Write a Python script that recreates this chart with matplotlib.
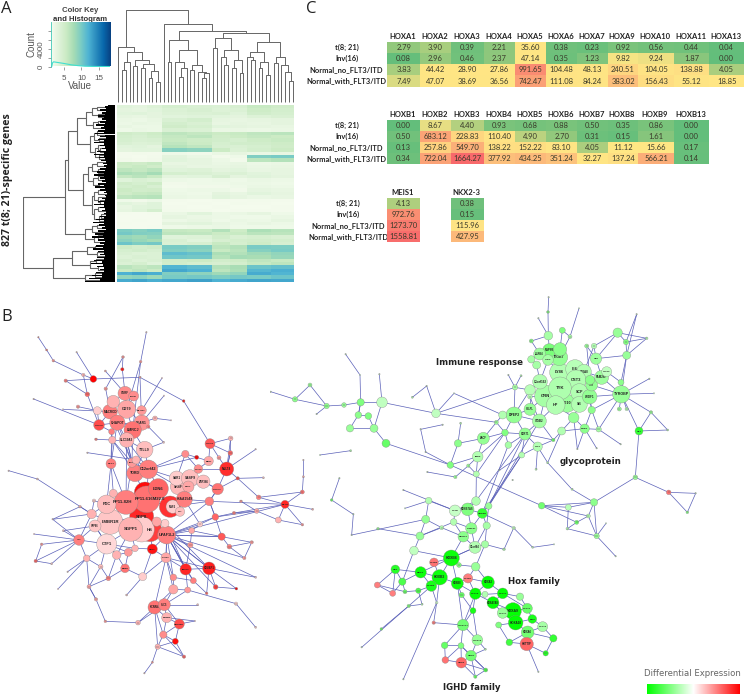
import numpy as np
import matplotlib
matplotlib.use('Agg')
import matplotlib.pyplot as plt
from matplotlib.collections import LineCollection
from matplotlib.colors import LinearSegmentedColormap, FuncNorm
from matplotlib.patches import Circle

W, H = 746, 697

# ---- panel A data
key_hist_x = [1.5, 1.7, 1.9, 2.2, 3, 5, 7, 9, 11, 13, 15, 18]
key_hist_y = [0, 0, 800, 1050, 950, 700, 400, 200, 60, 20, 0, 0]

# 53 gene bands x 9 sample groups
heat_values = [
    [3.6, 3.2, 3.8, 4.6, 4.2, 4.0, 4.4, 5.8, 5.2],
    [3.2, 3.0, 3.4, 4.0, 4.4, 3.8, 4.0, 5.4, 4.8],
    [3.4, 3.6, 3.2, 3.8, 4.0, 4.2, 3.6, 5.0, 4.6],
    [3.0, 2.8, 3.2, 3.4, 3.6, 3.4, 3.2, 3.8, 4.2],
    [2.6, 2.4, 2.8, 4.2, 4.8, 3.0, 2.8, 3.0, 3.2],
    [2.4, 2.8, 2.6, 4.8, 4.2, 2.8, 3.0, 2.8, 3.2],
    [2.8, 2.4, 2.4, 5.2, 4.6, 3.4, 3.2, 3.0, 2.8],
    [2.2, 2.6, 2.4, 4.2, 4.0, 2.6, 2.6, 2.4, 2.6],
    [5.2, 4.8, 5.4, 6.4, 6.0, 5.6, 5.8, 6.2, 6.6],
    [4.8, 4.4, 5.0, 6.0, 6.4, 5.2, 5.6, 6.0, 5.6],
    [4.6, 4.2, 4.4, 5.8, 5.4, 5.0, 4.6, 5.4, 5.8],
    [4.2, 3.8, 4.0, 6.2, 5.6, 4.6, 5.0, 5.0, 5.4],
    [3.4, 3.6, 3.2, 6.8, 6.2, 4.4, 4.2, 4.6, 5.2],
    [3.2, 3.4, 3.4, 9.2, 8.8, 5.6, 4.0, 4.8, 5.6],
    [1.8, 1.9, 1.8, 2.2, 2.0, 2.6, 3.0, 2.6, 2.8],
    [1.8, 1.7, 1.9, 3.2, 2.6, 1.9, 2.2, 9.4, 9.8],
    [2.0, 1.8, 2.0, 3.4, 3.0, 2.4, 1.9, 6.5, 7.0],
    [5.6, 5.2, 5.8, 2.8, 3.0, 2.6, 2.8, 2.4, 2.6],
    [5.4, 5.8, 5.2, 3.2, 2.8, 2.8, 3.0, 2.6, 2.8],
    [6.4, 6.0, 6.6, 3.6, 3.8, 3.2, 3.4, 2.8, 3.0],
    [7.4, 7.0, 7.8, 4.6, 4.2, 3.8, 4.0, 3.4, 3.0],
    [6.0, 6.6, 5.8, 3.2, 3.4, 4.4, 3.2, 3.6, 3.2],
    [3.6, 4.2, 3.8, 2.4, 2.2, 2.4, 2.2, 2.6, 2.4],
    [5.2, 4.6, 5.4, 2.0, 2.2, 2.2, 2.4, 2.4, 2.2],
    [4.8, 5.2, 4.4, 1.9, 2.0, 2.0, 2.2, 2.6, 2.4],
    [5.6, 5.0, 5.2, 2.2, 2.4, 2.4, 2.0, 3.0, 2.8],
    [5.2, 5.8, 6.0, 2.4, 2.2, 3.2, 2.8, 3.4, 3.0],
    [6.2, 6.6, 6.8, 2.6, 2.4, 3.4, 3.0, 2.6, 2.8],
    [2.2, 2.0, 2.4, 1.8, 1.7, 1.8, 1.8, 1.9, 1.8],
    [3.4, 3.0, 3.6, 1.7, 1.8, 1.7, 1.9, 1.8, 1.7],
    [2.8, 3.4, 3.6, 1.8, 1.7, 1.8, 1.7, 1.7, 1.8],
    [3.0, 3.6, 4.6, 1.9, 1.8, 1.7, 1.8, 1.8, 1.8],
    [1.7, 1.6, 1.7, 2.6, 3.4, 2.4, 2.6, 3.0, 2.2],
    [1.6, 1.6, 1.6, 3.0, 2.6, 2.4, 2.2, 2.2, 2.6],
    [1.6, 1.7, 1.6, 2.4, 2.8, 2.2, 2.6, 2.4, 3.0],
    [1.7, 1.6, 1.6, 3.2, 3.4, 2.8, 2.4, 2.8, 2.4],
    [1.6, 1.6, 1.7, 2.2, 2.4, 2.6, 2.2, 2.2, 2.2],
    [9.6, 9.2, 9.8, 6.0, 5.8, 7.0, 5.4, 7.4, 6.8],
    [10.0, 9.4, 9.2, 6.4, 6.2, 5.6, 5.8, 6.6, 6.4],
    [8.4, 8.0, 8.6, 3.6, 3.8, 5.0, 4.2, 4.6, 4.2],
    [9.0, 8.4, 7.8, 4.2, 3.4, 4.4, 4.8, 5.0, 4.8],
    [10.4, 9.6, 10.0, 4.0, 4.4, 5.8, 4.6, 5.4, 4.4],
    [5.4, 4.8, 5.2, 9.8, 9.4, 6.4, 7.0, 9.8, 9.6],
    [4.6, 5.0, 4.4, 9.4, 9.0, 5.8, 6.6, 9.2, 9.8],
    [4.2, 3.8, 4.0, 11.0, 10.6, 7.4, 7.0, 8.0, 8.6],
    [3.8, 4.2, 4.0, 10.2, 10.0, 6.8, 7.8, 7.6, 8.4],
    [4.4, 3.8, 4.2, 5.2, 5.6, 5.0, 5.4, 6.2, 5.8],
    [4.0, 4.6, 3.6, 5.0, 4.6, 4.4, 4.8, 5.8, 6.4],
    [6.6, 6.0, 6.4, 11.6, 11.0, 7.0, 7.6, 10.4, 10.8],
    [5.8, 6.4, 5.6, 12.4, 11.8, 6.4, 7.4, 11.4, 12.0],
    [11.8, 12.4, 12.0, 9.4, 8.8, 8.0, 8.6, 12.2, 11.6],
    [8.6, 9.0, 8.2, 9.8, 10.0, 9.6, 10.0, 9.8, 10.4],
    [12.2, 12.6, 12.0, 12.4, 12.8, 11.8, 12.2, 12.6, 12.4],
]

# dendrograms: (height, left, right), 0 is a leaf
col_tree = (275,
            (165, 0, (148, (120, (95, 0, 0), 0),
                      (125, (108, 0, 0), (112, (100, 0, 0), (92, (70, 0, 0), (60, 0, 0)))))),
            (233, 0,
             (212,
              (185, (120, 0, 0),
               (155, (120, 0, (100, (75, 0, 0), 0)),
                (110, (95, 0, 0), (90, 0, (85, (70, 0, 0), 0))))),
              (207,
               (190, (160, 0, 0), (155, (135, 0, (110, 0, 0)), (125, (100, 0, 0), (85, 0, 0)))),
               (178, (150, (135, 0, (125, 0, 0)), (120, (100, 0, 0), (80, 0, 0))),
                (135, (115, 0, 0), (110, 0, (90, 0, (62, 0, 0)))))))))

row_tree = (275,
            (150,
             (142,
              (113,
               (87, (70, (55, 0, 0), (50, 0, 0)), (65, (52, 0, 0), 0)),
               (75, (62, (55, 0, 0), (48, 0, 0)), (60, (50, 0, (45, 0, 0)), (48, 0, 0)))),
              (95,
               (82, (68, (55, 0, 0), (50, 0, 0)), (65, (52, 0, 0), (48, 0, 0))),
               (70, (62, (50, 0, 0), (50, 0, (45, 0, 0))), (64, (52, 0, 0), (48, (42, 0, 0), 0))))),
             (90, (70, (55, 0, 0), 0), (62, (50, 0, 0), 0))),
            (185,
             (130, (85, (60, 0, 0), (55, 0, 0)), (75, (58, 0, 0), (50, 0, 0))),
             (90, (60, 0, 0), 0)))

# left edge of the black leaf block, top to bottom
row_leaf_depth = [22, 30, 26, 44, 28, 38, 30, 52, 32, 40, 28, 46, 30, 58, 34, 42, 30, 50, 32, 60,
                  30, 44, 28, 52, 32, 62, 34, 46, 30, 40, 28, 54, 32, 64, 34, 48, 30, 42, 26, 36,
                  24, 32, 28, 44, 30, 54, 34, 62, 32, 46, 30, 40, 28, 52, 32, 60, 30, 44, 28, 34,
                  24, 30, 28, 40, 30, 50, 32, 62, 34, 46, 30, 38, 26, 34, 28, 46, 32, 56, 34, 66,
                  32, 48, 30, 40, 28, 50, 32, 60, 36, 70, 34, 50, 30, 44, 32, 56, 36, 66, 34, 52,
                  32, 44, 30, 54, 34, 64, 38, 72, 36, 54, 32, 46, 34, 58, 38, 68, 40, 78, 44, 90]

# ---- panel B data, left network
left_x = [330, 450, 425, 425, 392, 435, 440, 475, 378, 320,
          510, 518, 320, 500, 540, 405, 445, 434, 333, 396,
          535, 530, 570, 565, 610, 553, 653, 680, 630, 626,
          595, 556, 590, 692, 691, 657, 628, 713, 855, 776,
          907, 938, 907, 835, 910, 910, 790, 767, 646, 665,
          688, 755, 733, 770, 702, 723, 575, 571, 600, 457,
          375, 557, 627, 709, 647, 620, 580, 520, 520, 563,
          498, 428, 325, 380, 267, 288, 316, 414, 464, 493,
          500, 538, 490, 526, 473, 552, 457, 433, 593, 585,
          708, 767, 767, 237, 125, 107, 155, 102, 260, 174,
          203, 302, 350, 385, 405, 285, 275, 240, 158, 190,
          282, 26, 112, 495, 470, 340, 380, 375, 401, 330,
          352, 425, 398, 340, 425, 380, 335, 337, 297, 292,
          262, 280, 197, 250, 230, 160, 140, 115, 101, 189,
          234, 288, 262, 367, 369, 422, 439, 316, 317, 420,
          486, 551, 492, 465, 445, 491, 513, 408]
left_y = [695, 720, 680, 718, 718, 608, 628, 596, 637, 643,
          650, 650, 762, 735, 665, 550, 538, 479, 521, 518,
          590, 565, 565, 590, 575, 628, 597, 537, 461, 513,
          537, 492, 502, 445, 489, 503, 634, 565, 643, 622,
          606, 658, 704, 690, 560, 510, 563, 478, 681, 740,
          770, 757, 804, 663, 669, 634, 722, 765, 703, 777,
          835, 838, 835, 896, 891, 910, 872, 862, 898, 900,
          803, 860, 865, 915, 890, 928, 994, 998, 952, 944,
          983, 1002, 1034, 1054, 1070, 1100, 1117, 1150, 944, 993,
          941, 1012, 862, 750, 763, 813, 821, 732, 805, 897,
          845, 830, 795, 787, 775, 708, 672, 650, 688, 722,
          632, 542, 567, 700, 695, 610, 358, 310, 318, 365,
          398, 398, 420, 335, 361, 450, 425, 450, 405, 362,
          313, 267, 272, 255, 187, 212, 180, 142, 327, 358,
          350, 448, 488, 238, 201, 215, 127, 243, 296, 262,
          264, 333, 317, 385, 410, 457, 391, 510]
left_r = [38, 35, 36, 38, 36, 32, 40, 30, 36, 28,
          32, 20, 30, 27, 14, 25, 28, 25, 15, 14,
          24, 22, 26, 17, 20, 24, 17, 21, 15, 14,
          13, 11, 6, 7, 7, 6, 13, 5, 12, 7,
          6, 3, 4, 9, 3, 2, 3, 2, 10, 11,
          7, 5, 5, 7, 5, 4, 9, 8, 8, 15,
          13, 17, 19, 4, 7, 4, 9, 10, 14, 9,
          15, 12, 7, 3, 6, 5, 4, 7, 20, 18,
          15, 15, 11, 9, 8, 5, 3, 2, 3, 2,
          5, 3, 3, 16, 4, 5, 3, 2, 10, 2,
          2, 7, 13, 12, 10, 18, 14, 4, 2, 3,
          5, 2, 3, 12, 14, 12, 27, 21, 15, 22,
          23, 23, 26, 19, 14, 22, 9, 11, 16, 12,
          7, 10, 5, 5, 2, 4, 3, 2, 2, 2,
          5, 4, 2, 5, 4, 4, 2, 3, 5, 3,
          2, 4, 2, 7, 5, 3, 2, 12]
left_de = [.22, .75, .85, .2, .3, .95, .55, .6, .5, .25,
           .8, .2, .15, .5, .25, .5, .5, .25, .5, .4,
           .28, .2, .25, .35, .25, .5, .55, .82, .65, .35,
           .45, .45, 1, .3, .6, .4, .5, .7, .85, .5,
           .55, .3, .4, .3, .3, .2, .2, .2, .6, .65,
           .5, .4, .4, .35, .5, .4, .35, .4, .2, .92,
           .55, .85, .88, 1, .75, .6, .5, .45, .35, .4,
           .35, .2, .5, .2, .35, .35, .4, .3, .55, .5,
           .3, .7, .45, .95, .3, .6, .4, .2, .2, .2,
           .2, .2, .2, .5, .4, .6, .2, .2, .3, .2,
           .2, .25, .3, .4, .3, .22, .3, .3, .2, .2,
           .2, .2, .2, .2, .35, .3, .35, .45, .45, .5,
           .5, .42, .55, .3, .4, .3, .5, .3, .7, .2,
           .6, 1, .5, .3, .2, .4, .5, .5, .2, .2,
           .4, .5, .2, .9, .4, .4, .2, .3, .4, .4,
           .2, .9, .2, .3, .5, .2, .2, .3]
left_names = {0: 'LMBR1R', 1: 'HS', 2: 'SGPIL', 4: 'SGPP1', 6: 'RP11-616M22.6', 7: 'LDN6',
              8: 'RP11-82H', 9: 'PDC', 11: 'NAF2', 12: 'CTF1', 13: 'UPAF1L2', 14: 'CT7',
              15: 'TORD', 16: 'C12orf42', 17: 'TTLL9', 18: 'MEG3', 19: 'PIK3', 20: 'SRSF',
              21: 'SAR1', 22: 'S4SF9', 23: 'MBL1', 24: 'ZNF366', 25: 'KIAA1549', 26: 'CAMK2',
              27: 'MLLT4', 28: 'CHAC1', 29: 'DBN1', 30: 'NFATC', 38: 'BCAR', 59: 'HMP1',
              60: 'RRBD', 61: 'FBLN5', 62: 'SOUAP1', 70: 'LPAR5', 78: 'KCNN4', 79: 'SLC5',
              80: 'PSMB9', 81: 'ARHGEF', 93: 'IL11', 105: 'SPP86', 116: 'CD79', 117: 'SGRF',
              118: 'RNAB', 119: 'MACROD', 120: 'CHAPOT', 121: 'PEAR1', 122: 'LMRCJ',
              124: 'BCAMT', 125: 'SLC19A2', 128: 'CAMKK'}
left_edges = [
    (137, 136), (136, 135), (135, 133), (133, 131), (131, 132), (131, 149), (134, 131), (149, 151),
    (151, 28), (146, 145), (145, 122), (144, 143), (144, 148), (143, 117), (145, 116), (147, 117),
    (148, 119), (149, 121), (150, 124), (152, 121), (138, 128), (139, 119), (140, 129), (130, 133),
    (130, 128), (132, 130), (129, 128), (128, 119), (128, 120), (141, 127), (142, 157),
    (116, 117), (116, 118), (116, 119), (116, 120), (116, 121), (116, 122), (116, 123), (116, 124),
    (117, 118), (117, 123), (119, 120), (119, 122), (120, 121), (120, 122), (121, 122), (122, 125),
    (120, 125), (120, 126), (126, 127), (127, 125), (125, 17), (122, 17), (125, 19), (125, 15),
    (120, 19), (119, 19), (128, 126), (153, 121), (154, 122), (155, 17), (156, 153), (155, 154),
    (17, 16), (17, 15), (19, 15), (19, 16), (18, 9), (18, 8), (18, 115), (19, 8), (127, 15),
    (127, 18), (125, 16), (157, 16), (125, 8), (120, 18), (126, 18), (122, 19), (127, 19),
    (15, 16), (15, 6), (16, 6), (16, 7), (7, 6), (5, 6), (8, 6), (9, 8), (0, 8), (0, 9), (0, 4),
    (4, 3), (3, 1), (1, 2), (2, 6), (2, 0), (2, 4), (10, 6), (10, 7), (11, 10), (14, 10), (13, 1),
    (13, 113), (13, 70), (113, 114), (114, 1), (12, 0), (12, 4), (12, 102), (12, 105), (105, 0),
    (106, 0), (106, 9), (107, 106), (108, 106), (109, 105), (110, 9),
    (20, 21), (20, 22), (21, 22), (22, 23), (20, 23), (22, 24), (23, 24), (24, 26), (25, 20),
    (25, 23), (25, 10), (25, 36), (26, 27), (26, 24), (27, 30), (27, 33), (27, 34), (29, 30),
    (29, 28), (28, 33), (28, 34), (28, 35), (33, 34), (29, 32), (32, 31), (31, 30), (31, 21),
    (30, 22), (32, 16), (31, 16), (35, 27), (34, 27), (36, 26), (36, 38), (36, 48), (37, 27),
    (37, 26), (38, 39), (38, 40), (38, 41), (38, 42), (38, 43), (40, 44), (44, 45), (40, 39),
    (42, 43), (43, 53), (53, 54), (54, 38), (55, 53), (39, 37), (46, 37), (47, 27), (48, 13),
    (48, 36), (48, 49), (49, 13), (49, 50), (50, 51), (50, 52), (51, 52), (49, 51), (52, 13),
    (53, 48), (54, 48), (56, 13), (57, 13), (58, 13), (56, 58), (56, 49), (57, 61), (57, 56),
    (58, 48), (25, 58), (36, 10), (13, 36), (26, 36), (20, 16), (21, 16), (30, 25), (38, 13),
    (59, 1), (59, 13), (59, 104), (60, 103), (60, 71), (60, 72), (60, 102), (70, 13), (70, 61),
    (70, 67), (70, 68), (61, 62), (61, 66), (61, 13), (62, 13), (62, 63), (62, 64), (62, 65),
    (62, 92), (64, 63), (65, 66), (66, 67), (67, 68), (68, 69), (69, 61), (68, 78), (68, 79),
    (69, 79), (69, 90), (90, 91), (70, 78), (71, 70), (71, 73), (72, 74), (71, 59), (74, 75),
    (75, 76), (76, 77), (77, 78), (77, 79), (78, 79), (78, 80), (79, 80), (80, 81), (78, 82),
    (79, 81), (81, 82), (81, 83), (82, 83), (83, 85), (82, 85), (84, 85), (84, 82), (84, 83),
    (84, 78), (84, 86), (86, 87), (80, 89), (79, 88), (81, 89), (80, 82), (13, 61), (13, 62),
    (13, 92), (13, 64), (13, 49), (70, 62), (113, 62), (59, 70), (13, 67), (13, 66), (113, 61),
    (93, 94), (93, 95), (93, 96), (93, 97), (93, 98), (93, 105), (93, 106), (93, 108), (93, 109),
    (93, 12), (94, 95), (95, 96), (98, 12), (98, 99), (98, 100), (98, 101), (98, 74), (101, 12),
    (101, 72), (102, 103), (103, 104), (104, 4), (102, 4), (111, 112), (112, 106), (107, 108),
    (110, 106), (105, 12), (72, 102), (75, 74), (74, 101), (12, 103), (12, 104), (102, 12),
]

# ---- panel B data, right network (positive is the green side)
right_x = [527, 591, 568, 615, 642, 618, 570, 557, 628, 628,
           659, 665, 660, 695, 510, 480, 568, 538, 509, 534,
           570, 484, 500, 535, 577, 484, 534, 536, 505, 627,
           600, 678, 650, 672, 743, 768, 770, 800, 830, 710,
           753, 754, 838, 852, 748, 770, 843, 807, 893, 752,
           686, 644, 665, 611, 575, 533, 680, 622, 432, 398,
           480, 508, 465, 503, 455, 415, 405, 379, 435, 453,
           415, 480, 550, 498, 340, 264, 272, 323, 241, 295,
           198, 252, 170, 127, 218, 152, 167, 172, 256, 319,
           388, 428, 36, 48, 12, -5, 28, -28, -35, -60,
           -225, -180, -298, -130, -78, -160, -150, -58, -92, -115,
           -50, -55, -25, -73, -30, 318, 255, 293, 337, 356,
           350, 304, 280, 251, 215, 167, 150, 100, 176, 105,
           24, 132, 315, 345, 402, 431, 488, 552, 515, 672,
           595, 655, 620, 592, 680, 708, 737, 606, 796, 896,
           977, 952, 244, 209, 152, 76, 97, 184, 262, 192,
           294, 354, 316, 345, 267, 317, 275, 22, 68, 105,
           145, 116, 156, 200, 34, 100, 191, 369, 398, 450,
           429, 398, 472, 437, 487, 386, 473, 518, 550, 470,
           418, 527, 505, 309, 279, 322, 303, 274, 226, 224,
           273, 347, 316, 346]
right_y = [318, 340, 247, 237, 245, 270, 295, 345, 307, 343,
           320, 285, 270, 262, 275, 300, 202, 181, 192, 210,
           178, 208, 225, 137, 121, 153, 66, 22, 85, 55,
           140, 206, 168, 168, 128, 156, 196, 73, 145, 245,
           277, 313, 266, 310, 357, 357, 367, 423, 420, 463,
           418, 416, 360, 383, 423, 518, 475, 477, 375, 375,
           358, 393, 432, 470, 495, 465, 428, 397, 292, 257,
           255, 320, 450, 538, 445, 460, 400, 500, 525, 527,
           370, 310, 288, 322, 404, 418, 486, 546, 561, 552,
           541, 570, 337, 460, 415, 378, 253, 337, 375, 415,
           328, 285, 305, 348, 345, 372, 495, 482, 565, 630,
           673, 735, 1072, 193, 255, 633, 662, 658, 670, 648,
           707, 715, 740, 696, 713, 688, 738, 600, 632, 655,
           716, 782, 772, 763, 778, 714, 772, 763, 647, 637,
           652, 678, 697, 716, 738, 700, 799, 598, 562, 607,
           610, 667, 804, 862, 847, 838, 875, 888, 880, 817,
           865, 877, 911, 913, 825, 830, 915, 885, 910, 905,
           902, 948, 943, 938, 1017, 1168, 998, 938, 910, 920,
           963, 969, 955, 998, 987, 1005, 1027, 1010, 1045, 1062,
           1057, 1090, 1145, 962, 1005, 1050, 1097, 1118, 1110, 1066,
           1067, 1140, 1160, 1078]
right_r = [33, 27, 29, 28, 22, 30, 34, 28, 26, 24,
           22, 18, 14, 21, 22, 16, 25, 20, 18, 16,
           20, 11, 12, 13, 9, 6, 4, 2, 2, 2,
           6, 17, 6, 8, 14, 8, 12, 2, 4, 15,
           9, 26, 2, 2, 6, 5, 5, 12, 3, 2,
           8, 14, 11, 16, 12, 3, 2, 2, 24, 12,
           18, 21, 18, 14, 9, 10, 10, 6, 8, 3,
           2, 7, 5, 3, 18, 11, 3, 16, 10, 5,
           13, 2, 2, 3, 2, 2, 2, 2, 5, 9,
           2, 2, 16, 12, 12, 10, 2, 11, 10, 11,
           8, 6, 2, 8, 7, 2, 2, 3, 2, 4,
           2, 2, 2, 2, 2, 13, 17, 19, 15, 10,
           11, 17, 16, 10, 6, 12, 12, 2, 10, 2,
           4, 13, 18, 11, 4, 5, 3, 2, 10, 11,
           9, 6, 6, 4, 8, 2, 2, 3, 7, 7,
           2, 4, 24, 23, 17, 13, 11, 16, 18, 13,
           14, 19, 17, 9, 7, 13, 8, 9, 9, 6,
           8, 5, 3, 4, 4, 2, 5, 18, 16, 11,
           25, 16, 15, 22, 13, 9, 19, 15, 11, 20,
           10, 8, 2, 9, 17, 16, 16, 16, 10, 10,
           9, 6, 5, 3]
right_de = [.35, .38, .3, .28, .3, .3, .32, .3, .3, .3,
            .42, .42, .45, .38, .3, .28, .42, .52, .38, .35,
            .45, .35, .35, .35, .5, .5, .5, .2, .2, .2,
            .35, .38, .4, .3, .4, .5, .4, .2, .3, .25,
            .45, .4, .2, .2, .4, .3, .4, .8, .3, .2,
            .35, .45, .45, .4, .3, .3, .2, .2, .42, .3,
            .4, .35, .42, .3, .3, .35, .5, .4, .35, .3,
            .2, .3, .6, .3, .42, .45, .3, .3, .5, .4,
            .25, .2, .2, .3, .2, .2, .2, .2, .4, .3,
            .2, .2, .25, .6, .4, .5, .2, .5, .45, .4,
            .45, .4, .2, .45, .4, .2, .2, .3, .3, .6,
            .3, .2, .2, .2, .2, .3, .22, .5, .8, .4,
            .35, .45, .45, .3, .3, .42, .4, .2, .3, .2,
            .4, .25, .3, .35, .3, .25, .25, .2, .55, .45,
            .28, .3, .6, .3, .4, .2, .2, .3, .4, -.55,
            .2, .5, .95, .95, .95, .85, .7, .9, .95, -.55,
            -.5, .98, .98, .3, .5, .4, .6, -.5, -.5, .6,
            .7, .5, .3, .2, .6, .2, -.5, .98, .98, .4,
            .98, .4, .6, .98, .9, .5, .55, .35, .8, -.6,
            .75, .85, .2, .9, .55, .4, .55, -.6, -.55, .6,
            .5, .7, .6, .3]
right_names = {0: 'GRN', 1: 'CD10', 2: 'LY86', 3: 'IE6', 4: '100A8', 5: 'CST3', 6: 'TYK', 7: 'HP',
               8: 'SCP', 9: 'SB', 10: 'WDF1', 11: 'TYR', 13: 'FAM26F', 14: 'C1orf162', 16: 'ITGB7',
               17: 'NAPSB', 18: 'LILRB4', 19: 'CLEC', 31: 'GNS', 39: 'SLC15', 41: 'TYROBP', 47: 'CD4',
               51: 'MPEG', 58: 'DPEP2', 60: 'SELPL', 61: 'ITGB2', 62: 'SORT1', 63: 'LCP1', 74: 'ABCF',
               77: 'FNBP', 116: 'HOXB', 117: 'HOXB7AS', 118: 'CMKBB', 121: 'LAMP5L', 122: 'C9orf10',
               132: 'C1orf84', 152: 'HOXB6', 153: 'HOXB3', 154: 'MGC3', 155: 'HCG', 157: 'HOXB5',
               158: 'HOXB8', 159: 'HOXB2', 160: 'HOXB7', 161: 'HOXA3', 162: 'HOXA5', 177: 'HOXA7AS',
               178: 'HOXA7', 180: 'HOXA9', 181: 'HOXA4', 182: 'HOXA1', 183: 'HOXA10', 184: 'MEIS',
               186: 'HOXA6', 187: 'HOXA2', 189: 'HOTTIP', 194: 'SLC2A14', 195: 'SLC2A9', 196: 'IGHD1',
               197: 'IGHD2'}
right_edges = [
    (0, 1), (0, 2), (0, 6), (0, 7), (0, 14), (0, 15), (1, 8), (1, 9), (1, 7), (2, 3), (2, 6), (2, 16),
    (3, 4), (3, 5), (4, 5), (5, 8), (5, 6), (8, 9), (8, 10), (9, 10), (10, 11), (11, 12), (12, 13),
    (4, 13), (13, 39), (39, 40), (40, 41), (10, 41), (11, 41), (13, 41), (14, 22), (14, 15), (14, 19),
    (16, 17), (16, 20), (17, 18), (17, 19), (18, 19), (18, 21), (21, 22), (19, 2), (20, 24), (17, 23),
    (23, 25), (18, 25), (23, 26), (26, 27), (23, 28), (24, 30), (30, 16), (29, 30), (31, 32), (31, 33),
    (31, 13), (32, 12), (33, 4), (31, 34), (33, 34), (34, 35), (35, 36), (34, 38), (35, 38), (36, 38),
    (36, 31), (37, 35), (37, 36), (36, 41), (36, 40), (42, 41), (43, 41), (44, 41), (45, 41), (41, 46),
    (41, 47), (46, 47), (46, 48), (47, 48), (47, 148), (148, 149), (149, 150), (150, 151), (149, 151),
    (148, 139), (51, 52), (51, 53), (51, 50), (52, 10), (53, 9), (53, 54), (54, 51), (50, 49), (52, 50),
    (51, 56), (51, 57), (53, 57), (54, 55), (41, 52), (41, 50), (10, 52), (7, 53), (0, 60), (0, 61),
    (7, 61), (58, 60), (58, 59), (58, 61), (58, 62), (60, 61), (61, 62), (62, 63), (63, 64), (62, 64),
    (62, 65), (62, 66), (65, 66), (59, 67), (66, 67), (58, 66), (68, 58), (68, 15), (69, 68), (70, 68),
    (71, 60), (71, 0), (72, 61), (72, 62), (72, 54), (72, 63), (63, 73), (63, 55), (64, 119), (64, 90),
    (65, 118), (62, 115), (62, 119), (64, 118), (61, 119), (66, 89), (66, 77), (67, 74), (67, 80),
    (74, 75), (74, 77), (75, 76), (75, 78), (77, 78), (77, 79), (74, 66), (77, 89), (78, 86), (79, 89),
    (80, 81), (80, 82), (82, 83), (80, 92), (85, 84), (93, 78), (78, 138), (87, 88), (88, 79), (85, 86),
    (93, 94), (94, 95), (95, 98), (98, 97), (97, 92), (92, 94), (98, 99), (99, 94), (97, 104), (104, 103),
    (103, 100), (100, 101), (101, 103), (100, 102), (103, 105), (97, 98), (92, 96), (113, 114), (114, 97),
    (106, 107), (108, 109), (109, 110), (110, 111), (111, 125), (71, 61), (68, 80), (59, 81), (15, 58),
    (89, 115), (115, 116), (115, 117), (116, 117), (117, 118), (118, 119), (117, 121), (118, 121),
    (119, 120), (118, 120), (121, 122), (121, 123), (116, 123), (122, 123), (122, 124), (124, 125),
    (124, 126), (125, 126), (123, 126), (125, 128), (128, 129), (127, 116), (128, 116), (120, 132),
    (121, 132), (122, 132), (132, 133), (133, 120), (133, 165), (132, 152), (122, 152), (126, 131),
    (131, 152), (131, 156), (130, 126), (134, 135), (135, 118), (134, 133), (136, 137), (136, 135),
    (138, 139), (138, 140), (138, 141), (138, 142), (139, 140), (139, 141), (141, 142), (139, 144),
    (141, 144), (142, 143), (140, 143), (144, 145), (144, 146), (143, 144), (147, 139), (147, 55),
    (152, 153), (152, 154), (152, 158), (152, 164), (152, 159), (153, 154), (153, 157), (153, 158),
    (153, 159), (154, 155), (154, 156), (155, 156), (155, 167), (155, 168), (156, 168), (167, 168),
    (167, 169), (156, 169), (169, 170), (170, 157), (157, 154), (158, 160), (158, 162), (160, 161),
    (161, 162), (161, 165), (160, 165), (164, 165), (160, 162), (161, 178), (162, 163), (163, 178),
    (162, 177), (177, 178), (177, 180), (177, 181), (178, 179), (178, 182), (179, 182), (180, 181),
    (180, 182), (180, 183), (181, 183), (182, 184), (183, 184), (183, 185), (183, 186), (184, 187),
    (186, 187), (186, 189), (186, 188), (187, 188), (189, 190), (189, 191), (188, 191), (190, 185),
    (189, 192), (186, 190), (157, 171), (170, 172), (172, 171), (157, 173), (173, 176), (173, 175),
    (153, 173), (166, 158), (166, 193), (193, 162), (193, 194), (162, 194), (158, 194), (194, 176),
    (194, 195), (194, 199), (194, 200), (195, 196), (195, 193), (195, 203), (196, 197), (196, 200),
    (197, 198), (197, 200), (198, 199), (198, 200), (199, 200), (196, 201), (197, 201), (197, 202),
    (196, 202), (201, 202), (200, 201), (203, 196), (112, 171), (174, 171), (152, 132),
]

# ---- panel C data
row_labels = ['t(8; 21)', 'Inv(16)', 'Normal_no_FLT3/ITD', 'Normal_with_FLT3/ITD']
hoxa_genes = ['HOXA1', 'HOXA2', 'HOXA3', 'HOXA4', 'HOXA5', 'HOXA6', 'HOXA7', 'HOXA9', 'HOXA10', 'HOXA11', 'HOXA13']
hoxa_t821 = [2.79, 3.90, 0.39, 2.21, 35.60, 0.38, 0.23, 0.92, 0.56, 0.44, 0.04]
hoxa_inv16 = [0.08, 2.96, 0.46, 2.37, 47.14, 0.35, 1.23, 9.82, 9.24, 1.87, 0.00]
hoxa_no = [3.83, 44.42, 28.90, 27.86, 991.65, 104.48, 48.13, 240.51, 104.05, 138.88, 4.05]
hoxa_with = [7.49, 47.07, 38.69, 36.56, 742.47, 111.08, 84.24, 383.02, 156.43, 55.12, 18.85]
hoxb_genes = ['HOXB1', 'HOXB2', 'HOXB3', 'HOXB4', 'HOXB5', 'HOXB6', 'HOXB7', 'HOXB8', 'HOXB9', 'HOXB13']
hoxb_t821 = [0.00, 8.67, 4.40, 0.93, 0.68, 0.88, 0.50, 0.35, 0.86, 0.00]
hoxb_inv16 = [0.50, 683.12, 228.83, 110.40, 4.90, 2.70, 0.31, 0.15, 1.61, 0.00]
hoxb_no = [0.13, 257.86, 549.70, 138.22, 152.22, 83.10, 4.05, 11.12, 15.66, 0.17]
hoxb_with = [0.34, 722.04, 1664.27, 377.92, 434.25, 351.24, 32.27, 137.24, 566.21, 0.14]
meis1 = [4.13, 972.76, 1273.70, 1558.81]
nkx2_3 = [0.38, 0.15, 115.96, 427.95]

# ---- layout, in image pixels
cell_edges = np.array([52, 150, 243, 341, 435, 529, 621, 713, 805, 911, 1018, 1122]) / 3 + 370
heat_edges = np.array([97, 142, 187, 232, 306, 380, 435, 487, 557, 627]) / 3 + 85
left_label_shift = {6: 10, 8: -10}


def px_axes(x0, y0, x1, y1):
    ax = fig.add_axes([x0 / W, 1 - y1 / H, (x1 - x0) / W, (y1 - y0) / H])
    return ax


def walk_tree(node, segs, counter):
    if node == 0:
        i = counter[0]
        counter[0] += 1
        return i, 0
    h, a, b = node
    pa, ha = walk_tree(a, segs, counter)
    pb, hb = walk_tree(b, segs, counter)
    segs.append([(pa, ha), (pa, h), (pb, h), (pb, hb)])
    return (pa + pb) / 2, h


plt.rcParams['font.family'] = ['Open Sans', 'DejaVu Sans']
fig = plt.figure(figsize=(W / 100, H / 100), dpi=100, facecolor='white')

# full canvas for free text
canvas = px_axes(0, 0, W, H)
canvas.set_xlim(0, W)
canvas.set_ylim(H, 0)
canvas.axis('off')
canvas.text(1, 9, 'A', fontsize=12, va='center', ha='left', color='#222222')
canvas.text(1, 317, 'B', fontsize=12, va='center', ha='left', color='#222222')
canvas.text(306, 9, 'C', fontsize=12, va='center', ha='left', color='#222222')
canvas.text(8, 180, '827 t(8; 21)-specific genes', rotation=90, fontsize=7.6, fontweight='bold',
            va='center', ha='center', color='#222222')

# colour key
key_font = ['Liberation Sans', 'DejaVu Sans']
key = px_axes(50.7, 22, 110, 66.5)
key.imshow(np.linspace(0, 1, 256)[None, :], extent=(1.4, 18, 0, 10000), aspect='auto', cmap='GnBu')
key.plot(key_hist_x, key_hist_y, color='#40e0d0', lw=0.8)
key.set_xlim(1.4, 18)
key.set_ylim(0, 10000)
for s in ['top', 'right', 'bottom']:
    key.spines[s].set_visible(False)
key.spines['left'].set_color('#40c8b8')
key.spines['left'].set_linewidth(0.6)
key.set_xticks([5, 10, 15])
key.set_xticklabels(['5', '10', '15'], family=key_font)
key.set_yticks([0, 2000, 4000, 6000, 8000])
key.set_yticklabels(['0', '', '4000', '', ''], rotation=90, va='center', family=key_font)
key.tick_params(axis='both', length=2.5, width=0.4, labelsize=5.8, pad=3.5, colors='#555555')
key.tick_params(axis='y', pad=2)
key.set_xlabel('Value', fontsize=7, labelpad=-0.5, color='#555555', family=key_font)
key.set_ylabel('Count', fontsize=7, labelpad=0.5, color='#555555', family=key_font)
canvas.text(80, 10, 'Color Key', fontsize=5.6, fontweight='bold', ha='center', va='center',
            color='#444444', family=key_font)
canvas.text(80, 19.5, 'and Histogram', fontsize=5.6, fontweight='bold', ha='center', va='center',
            color='#333333', family=key_font, zorder=5)

# column dendrogram
col_segs = []
n_col = [0]
walk_tree(col_tree, col_segs, n_col)
top = px_axes(118.3, 10, 292.7, 101.7)
top.add_collection(LineCollection(col_segs, colors='#666666', linewidths=0.7, clip_on=False))
top.set_xlim(0, n_col[0] - 1)
top.set_ylim(0, 275)
top.axis('off')

# row dendrogram
row_segs = []
n_row = [0]
walk_tree(row_tree, row_segs, n_row)
row_segs = [[(h, p) for p, h in seg] for seg in row_segs]
side = px_axes(23.3, 105, 115, 282)
side.add_collection(LineCollection(row_segs, colors='#666666', linewidths=0.8))
side.set_xlim(275, 0)
side.set_ylim(n_row[0] - 0.5, -0.5)
side.axis('off')
mask = px_axes(23.3, 105, 115, 282)
mask.barh(np.arange(len(row_leaf_depth)), row_leaf_depth, height=1, color='black', linewidth=0)
mask.set_xlim(275, 0)
mask.set_ylim(len(row_leaf_depth) - 0.5, -0.5)
mask.axis('off')

# heatmap
heat = px_axes(heat_edges[0], 105, heat_edges[-1], 282)
heat.pcolormesh(heat_edges, np.arange(len(heat_values) + 1), np.array(heat_values),
                cmap='GnBu', vmin=1.4, vmax=18, linewidth=0, rasterized=True)
heat.set_xlim(heat_edges[0], heat_edges[-1])
heat.set_ylim(len(heat_values), 0)
heat.axis('off')

# expression tables
table_cmap = LinearSegmentedColormap.from_list('rdylgn_excel', [
    (0.0, '#63be7b'), (0.18, '#93c87c'), (0.31, '#eadf83'), (0.33, '#ffe784'), (0.64, '#fee384'),
    (0.74, '#fed580'), (0.80, '#fcbf7b'), (0.89, '#fba276'), (1.0, '#f8696b')])
table_norm = FuncNorm((lambda v: np.log10(np.asarray(v) + 1), lambda v: 10 ** np.asarray(v) - 1),
                      vmin=0, vmax=1664.27)
table_font = ['Lato', 'DejaVu Sans']


def draw_table(genes, rows, col_ids, y0, y1, label_x):
    dy = (y1 - y0) / 4
    for j, c in enumerate(col_ids):
        values = [[r[j]] for r in rows]
        ax = px_axes(cell_edges[c], y0, cell_edges[c + 1], y1)
        ax.pcolormesh(np.array(values), cmap=table_cmap, norm=table_norm, linewidth=0)
        ax.set_ylim(4, 0)
        ax.axis('off')
        xc = (cell_edges[c] + cell_edges[c + 1]) / 2
        canvas.text(xc - 1, y0 - 5.5, genes[j], fontsize=5.5, fontweight='bold', ha='center',
                    va='center', color='#222222', zorder=8, family=table_font)
        for i, r in enumerate(rows):
            ax.text(0.5, i + 0.5, '%.2f' % r[j], fontsize=5.5, ha='center', va='center',
                    color='#3a3a2a', family=table_font)
    for i, lab in enumerate(row_labels):
        canvas.text(label_x, y0 + dy * (i + 0.5), lab, fontsize=5.4, fontweight='bold', ha='center',
                    va='center', color='#222222', family=table_font)


draw_table(hoxa_genes, [hoxa_t821, hoxa_inv16, hoxa_no, hoxa_with], range(11), 41.7, 86.7, 346.5)
draw_table(hoxb_genes, [hoxb_t821, hoxb_inv16, hoxb_no, hoxb_with], range(10), 120, 164.3, 346.5)
draw_table(['MEIS1', 'NKX2-3'], [[a, b] for a, b in zip(meis1, nkx2_3)], [0, 2], 197.7, 242.3, 348)

# networks
net_cmap = LinearSegmentedColormap.from_list('diffexp', ['#00ff00', '#ffffff', '#ff0000'])
net_font = ['Liberation Sans', 'DejaVu Sans']


def draw_network(ax, xs, ys, rs, colors, edges, names, shifts):
    ax.autoscale(False)
    segs = [[(xs[a], ys[a]), (xs[b], ys[b])] for a, b in edges]
    ax.add_collection(LineCollection(segs, colors='#5a60b8', linewidths=0.5, zorder=1))
    for i in range(len(xs)):
        ax.add_patch(Circle((xs[i], ys[i]), rs[i], facecolor=colors[i], edgecolor='#888888',
                            linewidth=0.25, zorder=2 + i * 0.01))
        if i in names:
            size = max(1.7, min(3.1, rs[i] * 0.1))
            # the big labels stay readable over the overlapping nodes
            z = 5 if rs[i] >= 28 else 2 + i * 0.01 + 0.005
            ax.text(xs[i] + shifts.get(i, 0), ys[i], names[i], fontsize=size, ha='center', va='center',
                    color='#222222', fontweight='bold', zorder=z, family=net_font)
        elif rs[i] <= 8:
            ax.plot([xs[i] - rs[i] * 0.5, xs[i] + rs[i] * 0.5], [ys[i], ys[i]], color='#555555',
                    lw=0.35, zorder=2 + i * 0.01 + 0.005)
    ax.axis('off')


net_left = px_axes(0, 290, 370, 697)
net_left.set_xlim(0, 1110)
net_left.set_ylim(1221, 0)
net_left.patch.set_alpha(0)
draw_network(net_left, left_x, left_y, left_r, net_cmap(0.5 + 0.5 * np.array(left_de)),
             left_edges, left_names, left_label_shift)

net_right = px_axes(270, 290, 746, 697)
net_right.set_xlim(-300, 1128)
net_right.set_ylim(1221, 0)
net_right.patch.set_alpha(0)
draw_network(net_right, right_x, right_y, right_r, net_cmap(0.5 - 0.5 * np.array(right_de)),
             right_edges, right_names, {})
for txt, tx, ty in [('Immune response', 330, 217), ('glycoprotein', 660, 516),
                    ('Hox family', 492, 875), ('IGHD family', 305, 1193)]:
    net_right.text(tx, ty, txt, fontsize=6.2, fontweight='bold', ha='center', va='center',
                   color='#222222', family=['DejaVu Sans'], zorder=10)

# legend bar
canvas.text(692, 673, 'Differential Expression', fontsize=6.1, ha='center', va='center',
            color='#666666', family=['DejaVu Sans'])
bar = px_axes(646.5, 683.5, 739, 694)
bar.imshow(np.linspace(0, 1, 256)[None, :], aspect='auto', cmap=net_cmap)
bar.axis('off')

fig.savefig('out.png', dpi=100, facecolor='white')
